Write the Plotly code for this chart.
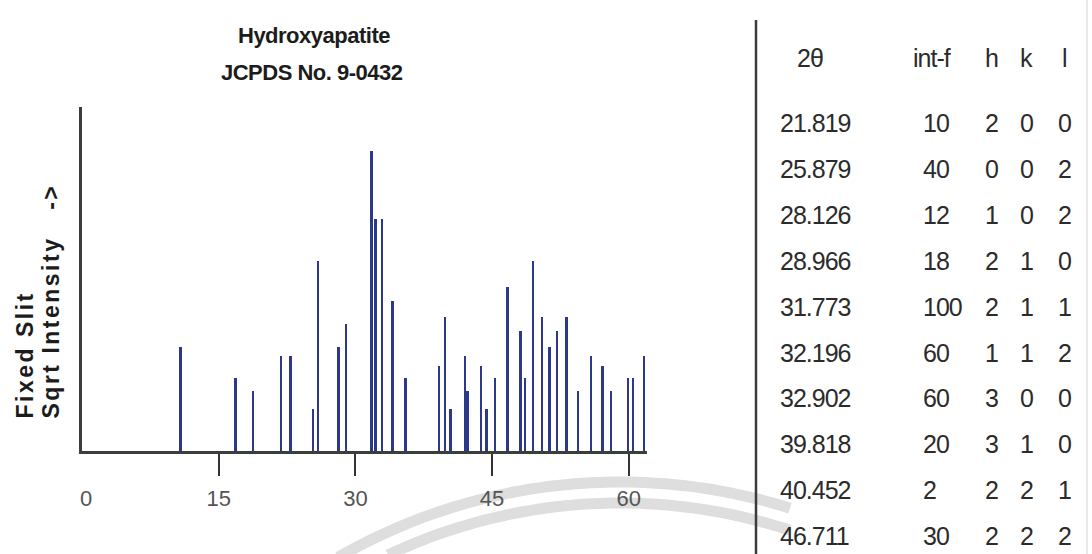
import numpy as np
import plotly.graph_objects as go

# JCPDS 9-0432 hydroxyapatite stick pattern: 2-theta positions and relative intensities
peak_two_theta = [10.820, 16.841, 18.785, 21.819, 22.902, 25.354, 25.879, 28.126,
                  28.966, 31.773, 32.196, 32.902, 34.048, 35.480, 39.204, 39.818,
                  40.452, 42.029, 42.318, 43.804, 44.369, 45.305, 46.711, 48.103,
                  48.623, 49.468, 50.493, 51.283, 52.100, 53.143, 54.440, 55.879,
                  57.128, 58.073, 59.938, 60.457, 61.660]
peak_intensity = [12, 6, 4, 10, 10, 2, 40, 12,
                  18, 100, 60, 60, 25, 6, 8, 20,
                  2, 10, 4, 8, 2, 6, 30, 16,
                  6, 40, 20, 12, 16, 20, 4, 10,
                  8, 4, 6, 6, 10]

# Reflection table
table_two_theta = ["21.819", "25.879", "28.126", "28.966", "31.773",
                   "32.196", "32.902", "39.818", "40.452", "46.711"]
table_int = ["10", "40", "12", "18", "100", "60", "60", "20", "2", "30"]
table_h = ["2", "0", "1", "2", "2", "1", "3", "3", "2", "2"]
table_k = ["0", "0", "0", "1", "1", "1", "0", "1", "2", "2"]
table_l = ["0", "2", "2", "0", "1", "2", "0", "0", "1", "2"]
table_headers = ["2θ", "int-f", "h", "k", "l"]

x_ticks = [15, 30, 45, 60]

W, H = 1092, 554
L, R, T, B = 82, 647, 107, 451


def px(xp):
    return (xp - L) / (R - L)


def py(yp):
    return (B - yp) / (B - T)


SANS = "Liberation Sans, Arial, sans-serif"
INK = "#2b2b2b"

fig = go.Figure()
fig.add_trace(go.Bar(
    x=peak_two_theta,
    y=np.sqrt(peak_intensity),
    width=0.27,
    marker=dict(color="#2c3889", line=dict(width=0)),
    hovertemplate="2θ=%{x}<extra></extra>",
))


def note(text, xp, yp, size, xanchor="center", yanchor="middle", color=INK, bold=False, angle=0,
         spacing=None):
    if spacing is not None:
        text = '<span style="letter-spacing:%spx">' % spacing + text + "</span>"
    return dict(text=text, x=px(xp), y=py(yp), xref="paper", yref="paper", showarrow=False,
                xanchor=xanchor, yanchor=yanchor, textangle=angle,
                font=dict(family=SANS, size=size, color=color, weight="bold" if bold else "normal"))


annotations = [
    # title
    note("Hydroxyapatite", 314, 35, 22, color="#1c1c1c", bold=True, spacing=-0.5),
    note("JCPDS No. 9-0432", 312, 72, 22, color="#1c1c1c", bold=True, spacing=-0.5),
    # y-axis title, two rotated lines sharing a common start
    note("Fixed Slit", 24, 421, 23, yanchor="bottom", color="#1c1c1c", bold=True, angle=-90,
         spacing=2.5),
    note("Sqrt Intensity   ->", 50, 421, 23, yanchor="bottom", color="#1c1c1c", bold=True, angle=-90,
         spacing=2.5),
    # 0 label at the origin
    note("0", 86, 498, 22, color="#555555"),
]

# table
header_x = [810, 932, 991, 1026, 1064]
for hx, htxt in zip(header_x, table_headers):
    annotations.append(note(htxt, hx, 58, 25, spacing=-1))

col_x = [778, 921, 991, 1026, 1064]
col_anchor = ["left", "left", "center", "center", "center"]
row0, row_step = 123, 45.9
columns = [table_two_theta, table_int, table_h, table_k, table_l]
for ci, col in enumerate(columns):
    for ri, val in enumerate(col):
        annotations.append(note(val, col_x[ci], row0 + ri * row_step, 25,
                                xanchor=col_anchor[ci], spacing=-1))


# faint stamp rings along the bottom edge
def ring_path(cx, cy, radius, x_start, x_end, n=60):
    xs = np.linspace(x_start, x_end, n)
    ys = cy - np.sqrt(np.clip(radius ** 2 - (xs - cx) ** 2, 0, None))
    pts = ["%s%.5f,%.5f" % ("M" if i == 0 else "L", px(x), py(y)) for i, (x, y) in enumerate(zip(xs, ys))]
    return " ".join(pts)


shapes = [
    dict(type="path", xref="paper", yref="paper", layer="below",
         path=ring_path(620, 1047, 565, 338, 790), line=dict(color="#dedede", width=11)),
    dict(type="path", xref="paper", yref="paper", layer="below",
         path=ring_path(620, 1047, 544, 388, 790), line=dict(color="#dedede", width=11)),
    dict(type="line", xref="paper", yref="paper", x0=px(756), x1=px(756), y0=py(20), y1=py(560),
         line=dict(color="#3c3c3c", width=2.5)),
    dict(type="line", xref="paper", yref="paper", x0=px(1087), x1=px(1087), y0=py(0), y1=py(560),
         line=dict(color="#e2e2e2", width=1.5)),
]

fig.update_layout(
    width=W, height=H,
    margin=dict(l=L, r=W - R, t=T, b=H - B, pad=0),
    paper_bgcolor="white", plot_bgcolor="rgba(0,0,0,0)",
    showlegend=False,
    bargap=0,
    xaxis=dict(range=[0, 62], tickvals=x_ticks, ticks="outside", ticklen=22, tickwidth=2,
               tickcolor="#333333", showline=True, linecolor="#3a3f3c", linewidth=3,
               showgrid=False, zeroline=False, ticklabelstandoff=4,
               tickfont=dict(family=SANS, size=22, color="#555555")),
    yaxis=dict(range=[0, 11.47], showticklabels=False, ticks="", showline=True,
               linecolor="#3a3f3c", linewidth=2.5, showgrid=False, zeroline=False),
    annotations=annotations,
    shapes=shapes,
)

fig.write_html("out.html")
